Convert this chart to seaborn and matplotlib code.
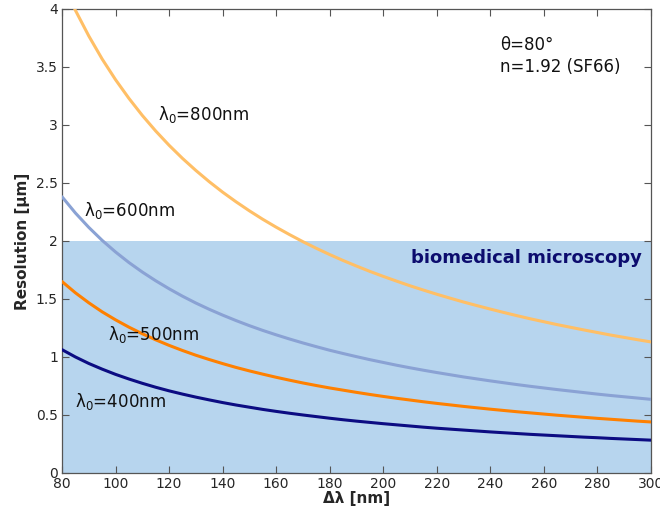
import matplotlib
matplotlib.use("Agg")
import matplotlib.pyplot as plt
import numpy as np
import pandas as pd
import seaborn as sns

# Δλ in nm
delta_lambda = list(range(80, 301, 5))

# resolution in um
res_800 = [4.238, 3.988, 3.767, 3.568, 3.390, 3.229, 3.082, 2.948, 2.825, 2.712,
           2.608, 2.511, 2.421, 2.338, 2.260, 2.187, 2.119, 2.055, 1.994, 1.937,
           1.883, 1.832, 1.784, 1.738, 1.695, 1.654, 1.614, 1.577, 1.541, 1.507,
           1.474, 1.443, 1.413, 1.384, 1.356, 1.329, 1.304, 1.279, 1.256, 1.233,
           1.211, 1.189, 1.169, 1.149, 1.130]
res_600 = [2.381, 2.241, 2.117, 2.005, 1.905, 1.814, 1.732, 1.657, 1.588, 1.524,
           1.465, 1.411, 1.361, 1.314, 1.270, 1.229, 1.191, 1.155, 1.121, 1.089,
           1.058, 1.030, 1.003, 0.977, 0.953, 0.929, 0.907, 0.886, 0.866, 0.847,
           0.828, 0.811, 0.794, 0.778, 0.762, 0.747, 0.733, 0.719, 0.706, 0.693,
           0.680, 0.668, 0.657, 0.646, 0.635]
res_500 = [1.650, 1.553, 1.467, 1.389, 1.320, 1.257, 1.200, 1.148, 1.100, 1.056,
           1.015, 0.978, 0.943, 0.910, 0.880, 0.852, 0.825, 0.800, 0.776, 0.754,
           0.733, 0.714, 0.695, 0.677, 0.660, 0.644, 0.629, 0.614, 0.600, 0.587,
           0.574, 0.562, 0.550, 0.539, 0.528, 0.518, 0.508, 0.498, 0.489, 0.480,
           0.471, 0.463, 0.455, 0.447, 0.440]
res_400 = [1.063, 1.000, 0.944, 0.895, 0.850, 0.810, 0.773, 0.739, 0.708, 0.680,
           0.654, 0.630, 0.607, 0.586, 0.567, 0.548, 0.531, 0.515, 0.500, 0.486,
           0.472, 0.459, 0.447, 0.436, 0.425, 0.415, 0.405, 0.395, 0.386, 0.378,
           0.370, 0.362, 0.354, 0.347, 0.340, 0.333, 0.327, 0.321, 0.315, 0.309,
           0.304, 0.298, 0.293, 0.288, 0.283]

series = {"800": res_800, "600": res_600, "500": res_500, "400": res_400}
colors = {"800": "#ffbf66", "600": "#8aa2d4", "500": "#ff8000", "400": "#0c0c82"}

df = pd.concat(
    [pd.DataFrame({"dl": delta_lambda, "res": v, "lam": k}) for k, v in series.items()]
)

sns.set_style("ticks")
plt.rcParams["font.family"] = ["DejaVu Sans"]

fig = plt.figure(figsize=(6.6, 5.15), dpi=100)
ax = fig.add_axes([0.094, 0.0816, 0.892, 0.901])

ax.axhspan(0, 2, color="#b7d5ee", zorder=0, lw=0)
sns.lineplot(data=df, x="dl", y="res", hue="lam", palette=colors,
             linewidth=2.2, legend=False, ax=ax, zorder=3)

ax.set_xlim(80, 300)
ax.set_ylim(0, 4)
ax.set_xticks(np.arange(80, 301, 20))
ax.set_yticks([0, 0.5, 1, 1.5, 2, 2.5, 3, 3.5, 4])
ax.set_yticklabels(["0", "0.5", "1", "1.5", "2", "2.5", "3", "3.5", "4"])
ax.tick_params(direction="in", top=True, right=True, length=5, width=0.8,
               color="#555555", labelsize=10, pad=3)
for sp in ax.spines.values():
    sp.set_color("#555555")
    sp.set_linewidth(0.9)

ax.set_xlabel("Δλ [nm]", fontsize=11, fontweight="bold", labelpad=0)
ax.set_ylabel("Resolution [μm]", fontsize=11, fontweight="bold", labelpad=4)

lab = dict(fontsize=12, color="#111111", va="center", ha="left", zorder=4)
ax.text(115.9, 3.09, "λ$_0$=800nm", **lab)
ax.text(88.2, 2.26, "λ$_0$=600nm", **lab)
ax.text(97.2, 1.19, "λ$_0$=500nm", **lab)
ax.text(84.9, 0.62, "λ$_0$=400nm", **lab)

ax.text(243.6, 3.69, "θ=80°", **lab)
ax.text(243.6, 3.50, "n=1.92 (SF66)", **lab)

ax.text(296.5, 1.85, "biomedical microscopy", fontsize=13, fontweight="bold",
        color="#0c0c6e", ha="right", va="center", zorder=4)

fig.savefig("out.png", dpi=100)
